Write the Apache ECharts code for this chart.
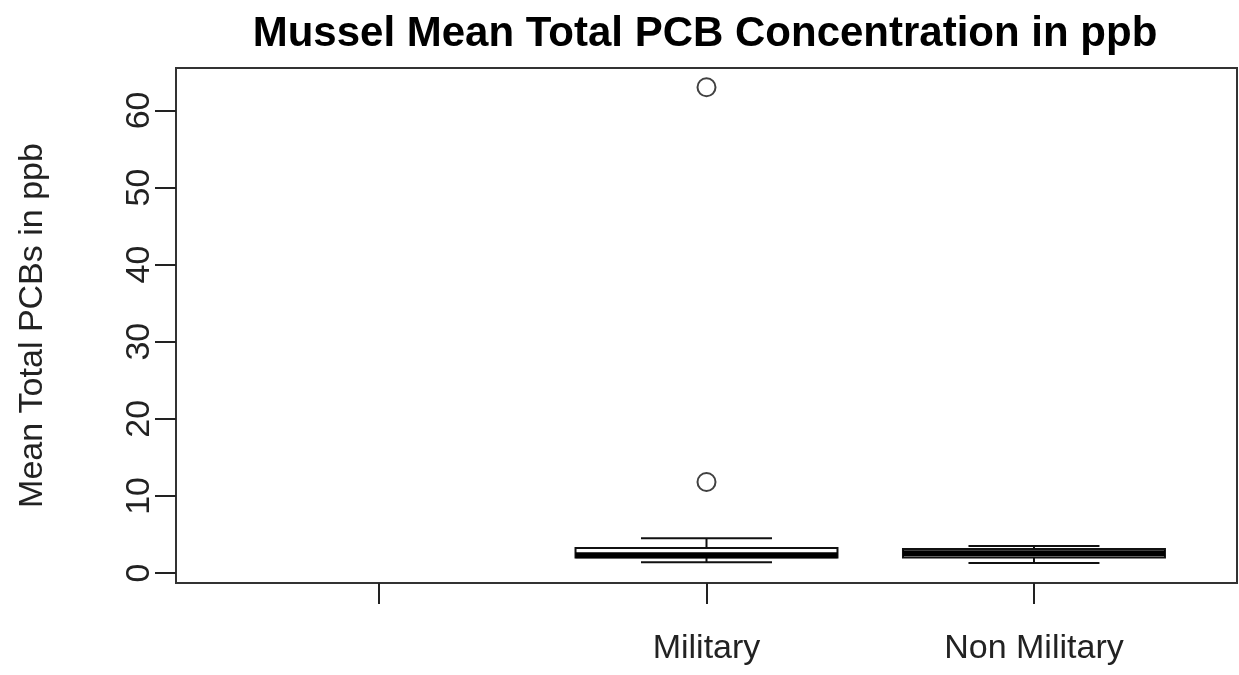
<!DOCTYPE html>
<html>
<head>
<meta charset="utf-8">
<script src="https://cdn.jsdelivr.net/npm/echarts@6/dist/echarts.min.js"></script>
<style>
html,body{margin:0;padding:0;background:#fff;}
#chart{width:1239px;height:675px;}
</style>
</head>
<body>
<div id="chart"></div>
<script>
// ---- data ----
const categories = ['', 'Military', 'Non Military'];
const lowerWhisker = [null, 1.4, 1.3];
const q1 = [null, 2.0, 2.0];
const median = [null, 2.3, 2.55];
const q3 = [null, 3.25, 3.1];
const upperWhisker = [null, 4.5, 3.5];
const outlierGroup = ['Military', 'Military'];
const outlierValues = [63.0, 11.8];
const yTickValues = [0, 10, 20, 30, 40, 50, 60];

// ---- build series data ----
const boxRows = [];
categories.forEach((c, i) => {
  if (q1[i] == null) return;
  boxRows.push([i + 1, lowerWhisker[i], q1[i], median[i], q3[i], upperWhisker[i]]);
});
const outlierRows = outlierGroup.map((g, i) => [categories.indexOf(g) + 1, outlierValues[i]]);

const FONT = "'Liberation Sans', Arial, Helvetica, sans-serif";
const nCat = categories.length;
const xMin = 0.5 - 0.04 * nCat;
const xMax = nCat + 0.5 + 0.04 * nCat;
const BOXWEX = 0.8;

const chart = echarts.init(document.getElementById('chart'), null, {renderer: 'canvas'});
chart.setOption({
  animation: false,
  backgroundColor: '#fff',
  title: {
    text: 'Mussel Mean Total PCB Concentration in ppb',
    left: 700,
    top: 8,
    textAlign: 'center',
    textStyle: {fontFamily: FONT, fontSize: 42, fontWeight: 'bold', color: '#000'}
  },
  grid: {
    left: 176, right: 2, top: 68, bottom: 92,
    show: true, borderColor: '#333', borderWidth: 2, backgroundColor: 'transparent'
  },
  xAxis: {
    type: 'value', min: xMin, max: xMax,
    axisLine: {show: false, onZero: false},
    splitLine: {show: false},
    axisTick: {show: true, inside: false, customValues: [1, 2, 3], length: 21, lineStyle: {color: '#222', width: 2}},
    axisLabel: {
      customValues: [1, 2, 3],
      formatter: v => categories[Math.round(v) - 1],
      fontFamily: FONT, fontSize: 34, color: '#222', margin: 49
    }
  },
  yAxis: {
    type: 'value', min: -1.3, max: 65.5,
    name: 'Mean Total PCBs in ppb',
    nameLocation: 'middle',
    nameGap: 126,
    nameTextStyle: {fontFamily: FONT, fontSize: 34, color: '#222'},
    axisLine: {show: false, onZero: false},
    splitLine: {show: false},
    axisTick: {show: true, inside: false, customValues: yTickValues, length: 21, lineStyle: {color: '#222', width: 2}},
    axisLabel: {
      customValues: yTickValues,
      rotate: 90,
      fontFamily: FONT, fontSize: 34, color: '#222', margin: 19
    }
  },
  series: [
    {
      type: 'custom',
      data: boxRows,
      encode: {x: 0, y: [1, 2, 3, 4, 5]},
      renderItem: function (params, api) {
        const x = api.value(0);
        const pLo = api.coord([x, api.value(1)]);
        const pQ1 = api.coord([x, api.value(2)]);
        const pMed = api.coord([x, api.value(3)]);
        const pQ3 = api.coord([x, api.value(4)]);
        const pHi = api.coord([x, api.value(5)]);
        const unit = api.size([1, 0])[0];
        const hw = unit * BOXWEX / 2;
        const cw = hw / 2;
        const cx = pMed[0];
        const thin = {stroke: '#111', lineWidth: 2};
        return {
          type: 'group',
          children: [
            {type: 'line', shape: {x1: cx, y1: pHi[1], x2: cx, y2: pQ3[1]}, style: thin},
            {type: 'line', shape: {x1: cx, y1: pQ1[1], x2: cx, y2: pLo[1]}, style: thin},
            {type: 'line', shape: {x1: cx - cw, y1: pHi[1], x2: cx + cw, y2: pHi[1]}, style: thin},
            {type: 'line', shape: {x1: cx - cw, y1: pLo[1], x2: cx + cw, y2: pLo[1]}, style: thin},
            {type: 'rect', shape: {x: cx - hw, y: pQ3[1], width: 2 * hw, height: pQ1[1] - pQ3[1]},
              style: {fill: '#fff', stroke: '#111', lineWidth: 2}},
            {type: 'line', shape: {x1: cx - hw, y1: pMed[1], x2: cx + hw, y2: pMed[1]},
              style: {stroke: '#000', lineWidth: 6}}
          ]
        };
      },
      z: 3
    },
    {
      type: 'scatter',
      data: outlierRows,
      symbol: 'circle',
      symbolSize: 18,
      itemStyle: {color: 'rgba(255,255,255,0)', borderColor: '#111', borderWidth: 2},
      z: 4
    }
  ]
});
</script>
</body>
</html>
